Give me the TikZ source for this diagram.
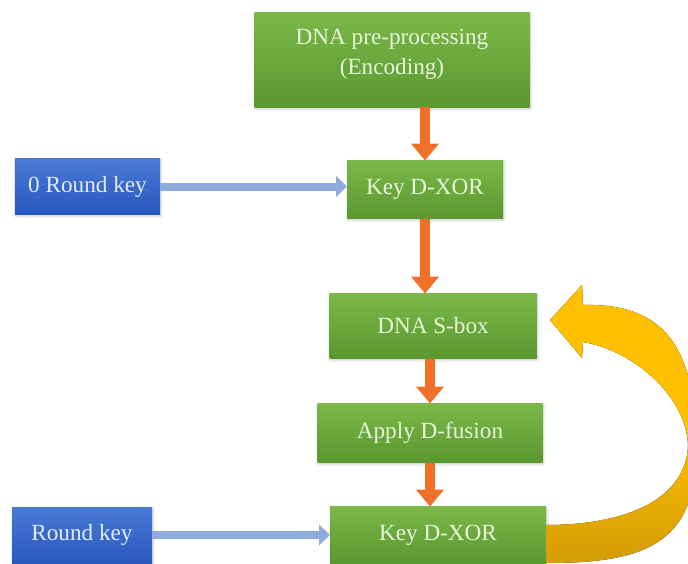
\documentclass[tikz,border=0pt]{standalone}
\usepackage{fontspec}
\setmainfont{Liberation Serif}
\usepackage{xcolor}
\usepackage{tikz}
\usetikzlibrary{positioning, shadows.blur, arrows.meta}

\definecolor{boxgreentop}{RGB}{122,184,72}
\definecolor{boxgreenbot}{RGB}{90,152,48}
\definecolor{boxbluetop}{RGB}{72,122,215}
\definecolor{boxbluebot}{RGB}{40,88,190}
\definecolor{greentext}{RGB}{232,245,218}
\definecolor{bluetext}{RGB}{226,236,250}
\definecolor{arrorange}{RGB}{240,112,40}
\definecolor{arrblue}{RGB}{143,170,220}
\definecolor{loopgold}{RGB}{255,192,0}
\definecolor{loopdark}{RGB}{212,156,6}

\begin{document}
\begin{tikzpicture}[
        every node/.style={top color=boxgreentop, bottom color=boxgreenbot, text=greentext, align=center,
          font=\fontsize{16.5}{21}\selectfont, inner sep=0pt, outer sep=0pt,
          blur shadow={shadow xshift=0.6pt, shadow yshift=-1pt, shadow blur steps=5, shadow opacity=25}},
        keybox/.style={top color=boxbluetop, bottom color=boxbluebot, text=bluetext},
        flow/.style={-{Triangle[width=0.67cm,length=0.42cm]}, line width=0.25cm, draw=arrorange},
        keyflow/.style={-{Triangle[width=0.5cm,length=0.27cm]}, line width=0.2cm, draw=arrblue},
        ]
      \useasboundingbox (0,0) rectangle (17.2,14.075);
      \clip (0,0) rectangle (17.2,14.075);

      \node [minimum width=6.875cm, minimum height=2.375cm] (dna-pre) at (9.8,12.575) {DNA pre-processing\\(Encoding)\\[-9.5pt]\mbox{}};
      \node [below=1.325cm of dna-pre, xshift=0.825cm, minimum width=3.9cm, minimum height=1.45cm] (key-xor) {Key D-XOR};
      \node [below=1.875cm of key-xor, xshift=0.2cm, minimum width=5.175cm, minimum height=1.625cm] (sbox) {DNA S-box};
      \node [below=1.125cm of sbox, xshift=-0.075cm, minimum width=5.625cm, minimum height=1.475cm] (fusion) {Apply D-fusion};
      \node [below=1.1cm of fusion, xshift=0.2cm, minimum width=5.4cm, minimum height=1.425cm] (key-xor-2) {Key D-XOR};
      \node [keybox, left=4.675cm of key-xor, yshift=0.075cm, minimum width=3.625cm, minimum height=1.4cm] (round-zero) {0 Round key};
      \node [keybox, left=4.45cm of key-xor-2, minimum width=3.5cm, minimum height=1.4cm] (round-key) {Round key};

      \draw[flow] (dna-pre.south -| key-xor.north) -- (key-xor.north);
      \draw[flow] (key-xor.south) -- (key-xor.south |- sbox.north);
      \draw[flow] (fusion.north |- sbox.south) -- (fusion.north);
      \draw[flow] (fusion.south) -- (fusion.south |- key-xor-2.north);
      \draw[keyflow] (round-zero.east) -- (round-zero.east -| key-xor.west);
      \draw[keyflow] (round-key.east) -- (key-xor-2.west);

      % loop back from the last key D-XOR to the S-box
      \fill[top color=loopgold, bottom color=loopdark, middle color=loopgold]
        (13.65,0) .. controls (16.0,0) and (17.45,0.4) .. (17.4,2.9)
        .. controls (17.4,5.4) and (16.6,6.5) .. (14.575,6.45)
        -- (14.55,6.95) -- (13.75,6.075) -- (14.55,5.125) -- (14.575,5.525)
        .. controls (15.9,5.3) and (17.2,4.1) .. (17.2,2.9)
        .. controls (17.1,1.5) and (15.5,0.95) .. (13.65,0.95) -- cycle;
\end{tikzpicture}
\end{document}
